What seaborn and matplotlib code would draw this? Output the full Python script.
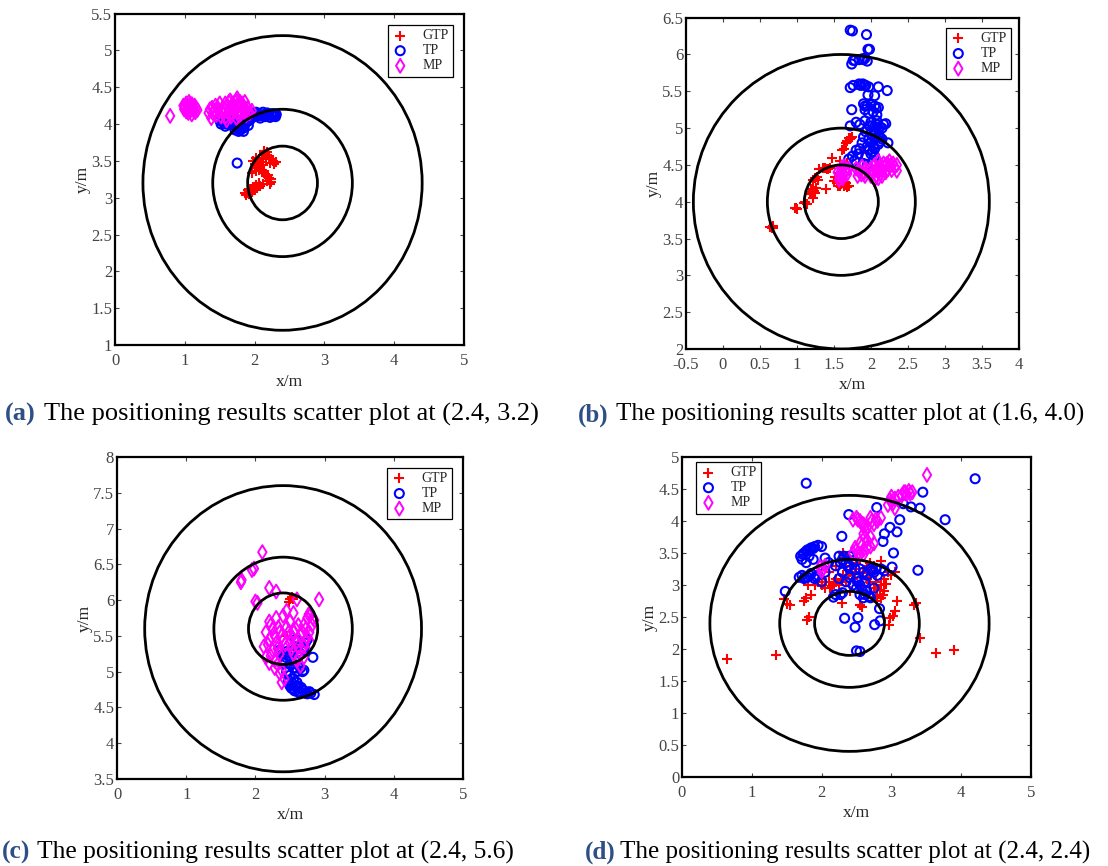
import matplotlib
matplotlib.use("Agg")
import matplotlib.pyplot as plt
from matplotlib.patches import Circle
from matplotlib.ticker import FuncFormatter
import numpy as np
import pandas as pd
import seaborn as sns

# ---- (a) true position (2.4, 3.2)
gtp_a = [(2.14, 3.64), (2.18, 3.62), (2.12, 3.58), (2.20, 3.56), (2.02, 3.54), (2.06, 3.52),
         (1.98, 3.50), (2.26, 3.50), (2.30, 3.48), (2.22, 3.47), (2.04, 3.45), (2.08, 3.42),
         (2.00, 3.40), (2.10, 3.38), (2.02, 3.36), (1.96, 3.34), (2.16, 3.30), (2.20, 3.27),
         (2.24, 3.25), (2.18, 3.22), (2.22, 3.18), (2.06, 3.20), (2.02, 3.17), (1.98, 3.15),
         (2.04, 3.13), (1.94, 3.12), (1.90, 3.10), (1.96, 3.08), (1.86, 3.07), (1.92, 3.05),
         (1.88, 3.03), (2.00, 3.11), (2.13, 3.60), (2.16, 3.55), (2.24, 3.52), (2.28, 3.46),
         (2.08, 3.48), (2.00, 3.46), (2.12, 3.44), (2.06, 3.38), (2.14, 3.33), (2.19, 3.31),
         (2.23, 3.21), (2.12, 3.19), (2.08, 3.16), (1.99, 3.13), (1.92, 3.09), (1.89, 3.06),
         (2.03, 3.43), (2.10, 3.52)]
tp_a = [(1.75, 3.47), (1.50, 4.05), (1.55, 4.02), (1.60, 4.00), (1.65, 3.99), (1.62, 4.05),
        (1.70, 4.06), (1.78, 4.03), (1.75, 3.95), (1.80, 3.92), (1.85, 3.95), (1.82, 3.98),
        (1.88, 4.02), (1.90, 4.08), (1.95, 4.12), (2.00, 4.10), (2.05, 4.14), (2.10, 4.12),
        (2.15, 4.10), (2.20, 4.13), (2.25, 4.11), (2.28, 4.14), (2.30, 4.10), (1.98, 4.15),
        (2.08, 4.08), (2.18, 4.15), (1.93, 4.05), (1.86, 4.10), (2.02, 4.16), (2.12, 4.16),
        (2.22, 4.09), (1.58, 3.97), (1.72, 3.92), (1.84, 3.90), (1.52, 4.00), (1.57, 4.04),
        (1.63, 4.02), (1.68, 4.00), (1.73, 3.98), (1.77, 3.90), (1.81, 3.95), (1.89, 4.05),
        (1.96, 4.09), (2.03, 4.12), (2.07, 4.11), (2.14, 4.13), (2.17, 4.12), (2.24, 4.14),
        (2.27, 4.11), (2.31, 4.13), (1.91, 3.98), (1.79, 3.98)]
mp_a = [(0.79, 4.11), (0.98, 4.25), (1.02, 4.28), (1.06, 4.30), (1.10, 4.27), (1.04, 4.22),
        (0.99, 4.20), (1.08, 4.18), (1.12, 4.22), (1.15, 4.16), (1.10, 4.13), (1.18, 4.19),
        (1.05, 4.15), (1.14, 4.25), (1.02, 4.17), (1.36, 4.20), (1.40, 4.15), (1.38, 4.08),
        (1.44, 4.25), (1.48, 4.18), (1.52, 4.10), (1.55, 4.22), (1.58, 4.28), (1.62, 4.15),
        (1.65, 4.32), (1.68, 4.24), (1.72, 4.30), (1.70, 4.18), (1.75, 4.35), (1.78, 4.25),
        (1.80, 4.15), (1.82, 4.28), (1.85, 4.20), (1.88, 4.12), (1.90, 4.22), (1.93, 4.15),
        (1.96, 4.18), (1.60, 4.05), (1.66, 4.10), (1.74, 4.08), (1.50, 4.28), (1.45, 4.12),
        (1.56, 4.15), (1.86, 4.30), (1.78, 4.10), (1.00, 4.24), (1.07, 4.26), (1.12, 4.19),
        (1.16, 4.22), (1.03, 4.20), (1.09, 4.22), (1.34, 4.15), (1.39, 4.22), (1.42, 4.18),
        (1.47, 4.22), (1.53, 4.16), (1.57, 4.20), (1.61, 4.25), (1.64, 4.20), (1.67, 4.16),
        (1.71, 4.24), (1.73, 4.20), (1.76, 4.16), (1.79, 4.30), (1.83, 4.22), (1.87, 4.17),
        (1.91, 4.15), (1.69, 4.28), (1.59, 4.10), (1.63, 4.30), (1.74, 4.32)]

# ---- (b) true position (1.6, 4.0)
gtp_b = [(0.64, 3.66), (0.66, 3.65), (0.68, 3.67), (0.67, 3.64), (0.97, 3.91), (0.99, 3.92),
         (1.00, 3.90), (1.09, 3.98), (1.11, 4.00), (1.13, 3.97), (1.17, 4.10), (1.20, 4.13),
         (1.22, 4.16), (1.25, 4.12), (1.26, 4.19), (1.22, 4.05), (1.39, 4.17), (1.22, 4.30),
         (1.25, 4.32), (1.28, 4.30), (1.30, 4.45), (1.35, 4.46), (1.40, 4.45), (1.44, 4.46),
         (1.48, 4.60), (1.50, 4.28), (1.55, 4.22), (1.60, 4.24), (1.63, 4.21), (1.66, 4.25),
         (1.70, 4.22), (1.52, 4.33), (1.61, 4.70), (1.63, 4.72), (1.66, 4.80), (1.70, 4.87),
         (1.74, 4.88), (1.72, 4.85), (1.88, 4.66), (1.58, 4.55), (1.68, 4.52), (1.54, 4.25),
         (1.58, 4.21), (1.62, 4.27), (1.67, 4.20), (1.57, 4.28), (1.65, 4.23), (1.23, 4.14),
         (1.19, 4.17), (1.27, 4.33), (1.38, 4.46), (1.42, 4.44), (1.68, 4.83), (1.73, 4.86)]
tp_b = [(1.72, 6.33), (1.75, 6.32), (1.94, 6.27), (1.96, 6.07), (1.98, 6.07), (1.74, 5.87),
        (1.76, 5.92), (1.84, 5.93), (1.88, 5.94), (1.92, 5.95), (1.95, 5.91), (1.72, 5.55),
        (1.76, 5.58), (1.84, 5.60), (1.89, 5.60), (1.93, 5.58), (1.97, 5.56), (2.10, 5.56),
        (2.22, 5.51), (1.96, 5.45), (2.05, 5.44), (1.74, 5.25), (1.90, 5.33), (1.95, 5.30),
        (2.00, 5.32), (2.05, 5.30), (2.10, 5.28), (1.92, 5.25), (2.03, 5.22), (2.08, 5.18),
        (1.97, 5.20), (1.72, 5.03), (1.80, 5.08), (1.85, 5.05), (1.92, 5.10), (2.00, 5.08),
        (2.05, 5.02), (2.10, 4.98), (2.20, 5.06), (2.15, 5.00), (1.95, 4.98), (2.00, 4.93),
        (2.10, 4.90), (1.90, 4.88), (2.05, 4.85), (2.15, 4.85), (2.00, 4.80), (2.10, 4.78),
        (2.23, 4.80), (1.95, 4.75), (2.05, 4.72), (1.85, 4.72), (1.80, 4.70), (2.00, 4.65),
        (2.05, 4.62), (1.75, 4.62), (1.70, 4.58), (1.78, 4.56), (1.90, 4.52), (1.95, 4.50),
        (2.12, 4.88), (1.98, 4.70), (2.08, 5.10), (1.97, 4.85), (2.02, 4.90), (2.07, 4.95),
        (2.12, 5.02), (1.93, 4.95), (2.03, 4.76), (2.13, 4.82), (1.88, 4.80), (1.83, 4.65),
        (2.02, 4.68), (1.93, 4.62), (2.08, 5.05), (2.17, 5.05), (1.98, 5.03), (1.92, 5.30),
        (2.07, 5.27), (1.86, 5.58), (1.91, 5.58), (1.78, 5.92), (1.90, 5.93)]
mp_b = [(1.55, 4.40), (1.60, 4.45), (1.65, 4.42), (1.58, 4.35), (1.62, 4.32), (1.68, 4.38),
        (1.57, 4.30), (1.64, 4.48), (1.70, 4.45), (1.80, 4.45), (1.85, 4.40), (1.90, 4.38),
        (1.82, 4.35), (1.88, 4.48), (1.95, 4.42), (1.92, 4.35), (2.00, 4.35), (2.05, 4.30),
        (2.10, 4.40), (2.15, 4.45), (2.20, 4.50), (2.25, 4.48), (2.30, 4.52), (2.35, 4.50),
        (2.10, 4.55), (2.05, 4.50), (2.20, 4.40), (2.28, 4.43), (2.15, 4.35), (2.00, 4.45),
        (2.35, 4.42), (2.25, 4.55), (2.10, 4.32), (1.59, 4.40), (1.63, 4.38), (1.67, 4.43),
        (1.61, 4.47), (1.84, 4.43), (1.87, 4.37), (1.93, 4.45), (2.03, 4.40), (2.08, 4.45),
        (2.13, 4.38), (2.18, 4.47), (2.23, 4.44), (2.27, 4.50), (2.32, 4.47), (2.17, 4.52),
        (2.07, 4.35), (2.12, 4.48), (2.22, 4.52)]

# ---- (c) true position (2.4, 5.6)
gtp_c = [(2.50, 6.01), (2.53, 6.04), (2.55, 6.02), (2.48, 5.98), (2.34, 5.22), (2.37, 5.20),
         (2.40, 5.24), (2.45, 5.50), (2.60, 5.30)]
tp_c = [(2.35, 5.30), (2.40, 5.25), (2.45, 5.28), (2.50, 5.20), (2.55, 5.30), (2.60, 5.35),
        (2.65, 5.25), (2.70, 5.30), (2.72, 5.40), (2.50, 5.10), (2.55, 5.05), (2.60, 5.00),
        (2.65, 5.05), (2.70, 5.02), (2.45, 5.00), (2.50, 4.95), (2.55, 4.90), (2.60, 4.85),
        (2.58, 4.80), (2.50, 4.80), (2.55, 4.75), (2.62, 4.72), (2.68, 4.75), (2.72, 4.70),
        (2.78, 4.72), (2.85, 4.68), (2.83, 5.20), (2.40, 5.12), (2.48, 4.88), (2.66, 4.78),
        (2.75, 5.45), (2.58, 5.45), (2.52, 4.77), (2.57, 4.73), (2.64, 4.70), (2.70, 4.73),
        (2.75, 4.69), (2.80, 4.70), (2.47, 4.85), (2.53, 4.84), (2.62, 4.80), (2.68, 5.00),
        (2.58, 5.05), (2.52, 5.15), (2.44, 5.20), (2.62, 5.28), (2.68, 5.32)]
mp_c = [(2.10, 6.67), (1.80, 6.28), (1.79, 6.25), (1.95, 6.42), (1.98, 6.44), (2.20, 6.17),
        (2.30, 6.12), (2.00, 5.98), (2.03, 5.96), (2.60, 6.01), (2.92, 6.01), (2.55, 5.82),
        (2.80, 5.80), (2.75, 5.75), (2.85, 5.72), (2.70, 5.65), (2.82, 5.65), (2.45, 5.85),
        (2.40, 5.78), (2.30, 5.75), (2.20, 5.70), (2.25, 5.60), (2.15, 5.55), (2.35, 5.55),
        (2.45, 5.62), (2.55, 5.55), (2.65, 5.50), (2.75, 5.48), (2.80, 5.40), (2.70, 5.35),
        (2.60, 5.42), (2.50, 5.40), (2.40, 5.45), (2.30, 5.40), (2.20, 5.45), (2.25, 5.30),
        (2.35, 5.25), (2.15, 5.20), (2.20, 5.12), (2.28, 5.05), (2.35, 4.98), (2.42, 4.90),
        (2.38, 4.85), (2.60, 5.15), (2.65, 5.08), (2.70, 5.20), (2.55, 5.25), (2.48, 5.55),
        (2.62, 5.65), (2.12, 5.35), (2.50, 5.70), (2.22, 5.65), (2.28, 5.50), (2.33, 5.62),
        (2.38, 5.50), (2.43, 5.38), (2.53, 5.48), (2.58, 5.60), (2.68, 5.55), (2.73, 5.60),
        (2.78, 5.55), (2.72, 5.42), (2.62, 5.35), (2.52, 5.32), (2.32, 5.32), (2.18, 5.38),
        (2.22, 5.22), (2.28, 5.15), (2.32, 5.10), (2.38, 5.02), (2.63, 5.20), (2.83, 5.75),
        (2.77, 5.80)]

# ---- (d) true position (2.4, 2.4)
gtp_d = [(0.65, 1.84), (1.34, 1.90), (3.64, 1.93), (3.89, 1.98), (3.41, 2.17), (2.96, 2.38),
         (2.98, 2.48), (3.02, 2.52), (3.05, 2.60), (3.08, 2.75), (3.32, 2.69), (3.35, 2.72),
         (1.79, 2.45), (1.82, 2.50), (1.50, 2.70), (1.55, 2.68), (1.46, 2.78), (1.75, 2.75),
         (1.78, 2.80), (1.85, 2.85), (1.80, 3.00), (2.29, 2.72), (2.55, 2.68), (2.58, 2.65),
         (2.00, 3.00), (2.05, 2.95), (2.10, 3.05), (2.15, 2.98), (2.20, 3.10), (2.25, 3.00),
         (2.30, 3.15), (2.35, 3.05), (2.40, 3.20), (2.45, 3.10), (2.50, 3.25), (2.55, 3.00),
         (2.60, 3.20), (2.65, 3.10), (2.70, 3.05), (2.75, 2.95), (2.80, 2.85), (2.85, 3.00),
         (2.90, 3.10), (2.95, 3.20), (3.00, 3.15), (2.85, 2.80), (2.80, 2.75), (2.90, 2.90),
         (2.30, 3.50), (2.35, 3.45), (2.85, 3.38), (2.75, 3.30), (2.10, 3.20), (1.95, 3.05),
         (2.20, 3.30), (2.40, 2.90), (2.60, 2.90), (3.05, 3.20), (2.70, 3.35), (2.00, 3.10),
         (1.90, 3.00), (2.05, 3.05), (2.12, 2.95), (2.18, 3.05), (2.28, 3.08), (2.38, 3.15),
         (2.48, 3.18), (2.58, 3.12), (2.68, 3.18), (2.78, 3.05), (2.83, 2.92), (2.88, 2.85),
         (2.92, 3.02), (2.78, 2.82), (2.65, 3.30), (2.50, 3.35), (2.35, 3.30)]
tp_d = [(1.78, 4.59), (4.20, 4.66), (3.45, 4.45), (3.41, 4.20), (3.28, 4.22), (3.17, 4.27),
        (3.77, 4.02), (2.79, 4.21), (2.39, 4.10), (3.12, 4.02), (2.98, 3.90), (2.90, 3.80),
        (3.08, 3.83), (2.29, 3.76), (2.88, 3.68), (3.03, 3.50), (3.38, 3.23), (3.01, 3.28),
        (1.48, 2.90), (2.33, 2.48), (2.48, 2.34), (2.52, 2.49), (2.76, 2.38), (2.84, 2.44),
        (2.83, 2.63), (2.50, 1.97), (2.55, 1.96), (2.17, 2.81), (2.27, 2.85),
        (1.70, 3.45), (1.72, 3.40), (1.75, 3.50), (1.80, 3.55), (1.85, 3.58), (1.90, 3.60),
        (1.95, 3.62), (2.00, 3.60), (1.78, 3.35), (1.72, 3.15), (1.75, 3.10), (1.80, 3.12),
        (1.85, 3.18), (1.90, 3.10), (1.95, 3.15), (2.00, 3.05), (2.05, 3.20), (1.68, 3.12),
        (1.82, 3.45), (1.88, 3.40), (2.05, 3.42), (2.10, 3.35), (2.20, 3.30), (2.25, 3.45),
        (2.30, 3.40), (2.35, 3.35), (2.40, 3.30), (2.45, 3.38), (2.30, 3.20), (2.25, 3.10),
        (2.35, 3.05), (2.40, 3.12), (2.45, 3.00), (2.50, 3.10), (2.55, 3.25), (2.60, 3.20),
        (2.65, 3.15), (2.70, 3.25), (2.75, 3.20), (2.80, 3.15), (2.85, 3.25), (2.50, 2.95),
        (2.55, 2.85), (2.60, 2.80), (2.65, 2.90), (2.70, 2.80), (2.75, 2.95), (2.55, 3.00),
        (2.20, 2.85), (2.30, 2.88), (2.40, 3.45), (2.90, 3.22), (2.62, 3.05), (1.73, 3.48),
        (1.78, 3.53), (1.83, 3.55), (1.88, 3.57), (1.76, 3.12), (1.83, 3.15), (1.92, 3.13),
        (2.27, 3.35), (2.32, 3.45), (2.38, 3.28), (2.52, 3.05), (2.58, 2.92), (2.62, 2.85),
        (2.68, 2.82), (2.72, 3.22), (2.78, 3.25), (2.48, 3.25)]
mp_d = [(3.51, 4.72), (3.20, 4.45), (3.25, 4.47), (3.30, 4.45), (3.15, 4.40), (3.05, 4.35),
        (3.00, 4.30), (2.95, 4.25), (3.05, 4.20), (3.00, 4.38), (3.22, 4.42), (2.50, 4.05),
        (2.55, 4.00), (2.60, 3.95), (2.70, 4.05), (2.80, 4.00), (2.75, 3.95), (2.85, 4.05),
        (2.45, 4.02), (2.65, 3.90), (2.60, 3.80), (2.65, 3.70), (2.55, 3.65), (2.70, 3.60),
        (2.60, 3.55), (2.50, 3.55), (2.45, 3.50), (2.55, 3.48), (2.75, 3.65), (2.70, 3.75),
        (1.98, 3.28), (2.02, 3.25), (2.05, 3.30), (2.00, 3.22), (3.18, 4.45), (3.27, 4.43),
        (3.10, 4.38), (3.02, 4.27), (2.98, 4.33), (2.52, 4.02), (2.57, 3.97), (2.62, 3.92),
        (2.72, 4.00), (2.78, 4.03), (2.63, 3.85), (2.62, 3.75), (2.58, 3.62), (2.65, 3.58),
        (2.52, 3.50), (2.48, 3.58), (2.60, 3.48)]

centers = [(2.4, 3.2), (1.6, 4.0), (2.4, 5.6), (2.4, 2.4)]
radii = [0.5, 1.0, 2.0]

panels = [
    dict(gtp=gtp_a, tp=tp_a, mp=mp_a, xlim=(0, 5), ylim=(1, 5.5), xstep=1,
         rect=[0.1038, 0.6016, 0.315, 0.3828], leg=dict(loc="upper right", bbox_to_anchor=(0.968, 0.965))),
    dict(gtp=gtp_b, tp=tp_b, mp=mp_b, xlim=(-0.5, 4), ylim=(2, 6.5), xstep=0.5,
         rect=[0.6191, 0.5970, 0.3005, 0.3826], leg=dict(loc="upper right", bbox_to_anchor=(0.976, 0.969))),
    dict(gtp=gtp_c, tp=tp_c, mp=mp_c, xlim=(0, 5), ylim=(3.5, 8), xstep=1,
         rect=[0.1056, 0.1005, 0.3123, 0.3718], leg=dict(loc="upper right", bbox_to_anchor=(0.968, 0.966))),
    dict(gtp=gtp_d, tp=tp_d, mp=mp_d, xlim=(0, 5), ylim=(0, 5), xstep=1,
         rect=[0.6155, 0.1028, 0.315, 0.3695], leg=dict(loc="upper left", bbox_to_anchor=(0.04, 0.984))),
]

sns.set_style("ticks")
plt.rcParams["font.family"] = ["Liberation Serif", "DejaVu Serif"]

fig = plt.figure(figsize=(11.08, 8.66), dpi=100)
fmt = FuncFormatter(lambda v, p: f"{v:g}")

for i, p in enumerate(panels):
    ax = fig.add_axes(p["rect"])
    frames = []
    for name, pts in [("GTP", p["gtp"]), ("TP", p["tp"]), ("MP", p["mp"])]:
        d = pd.DataFrame(pts, columns=["x", "y"])
        d["series"] = name
        frames.append(d)
    df = pd.concat(frames, ignore_index=True)

    sns.scatterplot(data=df[df.series == "GTP"], x="x", y="y", ax=ax, marker="+",
                    color="red", s=60, linewidth=1.5, label="GTP", legend=False)
    sns.scatterplot(data=df[df.series == "TP"], x="x", y="y", ax=ax, marker="o",
                    color="blue", facecolors="none", edgecolor="blue", s=42,
                    linewidth=1.5, label="TP", legend=False)
    sns.scatterplot(data=df[df.series == "MP"], x="x", y="y", ax=ax, marker="d",
                    color="magenta", facecolors="none", edgecolor="magenta", s=50,
                    linewidth=1.4, label="MP", legend=False)

    cx, cy = centers[i]
    for r in radii:
        ax.add_patch(Circle((cx, cy), r, fill=False, edgecolor="black", lw=2, zorder=1))

    ax.set_xlim(*p["xlim"])
    ax.set_ylim(*p["ylim"])
    ax.set_xticks(np.arange(p["xlim"][0], p["xlim"][1] + 1e-9, p["xstep"]))
    ax.set_yticks(np.arange(p["ylim"][0], p["ylim"][1] + 1e-9, 0.5))
    ax.xaxis.set_major_formatter(fmt)
    ax.yaxis.set_major_formatter(fmt)
    ax.tick_params(direction="in", top=True, right=True, length=3, width=0.8,
                   labelsize=12, labelcolor="#444444", color="#444444", pad=2)
    ax.tick_params(axis="x", pad=6)
    for sp in ax.spines.values():
        sp.set_linewidth(1.6)
        sp.set_color("black")
    ax.set_xlabel("x/m", fontsize=12.5, labelpad=3)
    ax.set_ylabel("y/m", fontsize=12.5, labelpad=0)

    leg = ax.legend(fontsize=10, frameon=True, fancybox=False, edgecolor="black",
                    framealpha=1, borderpad=0.3, handlelength=1.2, handletextpad=1.0,
                    labelspacing=0.15, borderaxespad=0, **p["leg"])
    leg.get_frame().set_linewidth(0.9)

captions = [
    ("(a)", "The positioning results scatter plot at (2.4, 3.2)", 5, 44, 0.521, 19),
    ("(b)", "The positioning results scatter plot at (1.6, 4.0)", 578, 616, 0.521, 18),
    ("(c)", "The positioning results scatter plot at (2.4, 5.6)", 2, 37, 0.016, 18.4),
    ("(d)", "The positioning results scatter plot at (2.4, 2.4)", 585, 620, 0.016, 18.1),
]
for lab, txt, xl, xt, yy, fs in captions:
    fig.text(xl / 1108, yy, lab, color="#2E4F86", fontweight="bold", fontsize=fs,
             ha="left", va="center")
    fig.text(xt / 1108, yy, txt, color="black", fontsize=fs, ha="left", va="center")

fig.savefig("out.png", dpi=100)
